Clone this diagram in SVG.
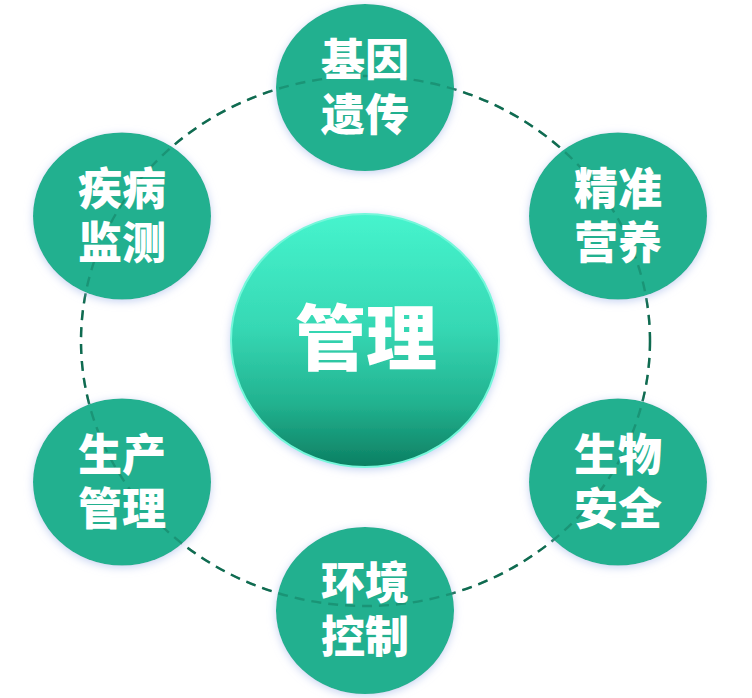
<svg xmlns="http://www.w3.org/2000/svg" width="752" height="698" viewBox="0 0 752 698">
<defs>
<linearGradient id="cg" x1="0" y1="0" x2="0" y2="1">
<stop offset="0" stop-color="#46F4CD"/>
<stop offset="0.45" stop-color="#36D8B4"/>
<stop offset="0.75" stop-color="#22B28F"/>
<stop offset="1" stop-color="#0C7F62"/>
</linearGradient>
<filter id="sh" x="-20%" y="-20%" width="140%" height="140%">
<feDropShadow dx="0" dy="2" stdDeviation="4" flood-color="#b4c4ee" flood-opacity="0.75"/>
</filter>
</defs>
<style>
.node{fill:#21B08F;filter:url(#sh)}
.lbl{font-family:"Noto Sans CJK SC","Noto Sans",sans-serif;font-weight:900;fill:#ffffff;text-anchor:middle;font-size:44px}
.dash{fill:none;stroke:#0F6B51;stroke-width:2.4;stroke-dasharray:10 7}
</style>
<g id="connectors">
<ellipse class="dash" cx="365.5" cy="341" rx="284.5" ry="265"/>
</g>
<g id="center">
<ellipse cx="365" cy="340.5" rx="134" ry="126.5" fill="url(#cg)" stroke="#74F7DA" stroke-width="2" filter="url(#sh)"/>
<text x="366" y="364" class="lbl" style="font-size:71px">管理</text>
</g>
<g id="n1"><ellipse class="node" cx="365" cy="87.5" rx="89" ry="83.5"/></g>
<g id="n2"><ellipse class="node" cx="618" cy="216" rx="89" ry="83.5"/></g>
<g id="n3"><ellipse class="node" cx="618" cy="482" rx="89" ry="83.5"/></g>
<g id="n4"><ellipse class="node" cx="365" cy="610.5" rx="89" ry="83.5"/></g>
<g id="n5"><ellipse class="node" cx="122" cy="482" rx="89" ry="83.5"/></g>
<g id="n6"><ellipse class="node" cx="122" cy="216" rx="89" ry="83.5"/></g>
<g id="connectors-over">
<ellipse class="dash" cx="365.5" cy="341" rx="284.5" ry="265" stroke-opacity="0.4"/>
</g>
<g id="labels">
<text class="lbl" x="365" y="76">基因<tspan x="365" dy="55">遗传</tspan></text>
<text class="lbl" x="618" y="205">精准<tspan x="618" dy="54">营养</tspan></text>
<text class="lbl" x="618" y="471">生物<tspan x="618" dy="54">安全</tspan></text>
<text class="lbl" x="365" y="599">环境<tspan x="365" dy="54">控制</tspan></text>
<text class="lbl" x="122" y="471">生产<tspan x="122" dy="54">管理</tspan></text>
<text class="lbl" x="122" y="205">疾病<tspan x="122" dy="54">监测</tspan></text>
</g>
</svg>
